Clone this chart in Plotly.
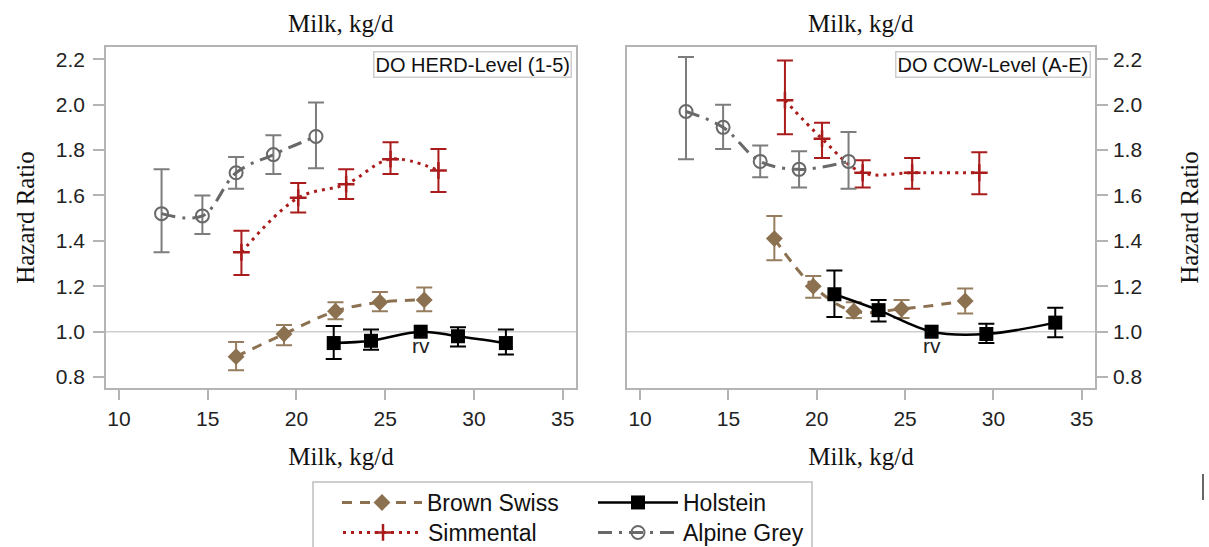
import numpy as np
import plotly.graph_objects as go

# ---- Hazard ratios by milk yield class: herd-level DO (left panel) ----
bs_herd_milk = [16.6, 19.3, 22.2, 24.7, 27.2]
bs_herd_hr = [0.89, 0.99, 1.09, 1.13, 1.14]
bs_herd_lo = [0.83, 0.94, 1.055, 1.09, 1.09]
bs_herd_hi = [0.955, 1.03, 1.13, 1.175, 1.195]

hol_herd_milk = [22.1, 24.2, 27.0, 29.1, 31.8]
hol_herd_hr = [0.95, 0.96, 1.00, 0.98, 0.95]
hol_herd_lo = [0.88, 0.92, None, 0.935, 0.90]
hol_herd_hi = [1.025, 1.01, None, 1.02, 1.01]

sim_herd_milk = [16.9, 20.1, 22.8, 25.3, 28.0]
sim_herd_hr = [1.35, 1.59, 1.65, 1.76, 1.71]
sim_herd_lo = [1.25, 1.525, 1.585, 1.695, 1.615]
sim_herd_hi = [1.445, 1.655, 1.715, 1.835, 1.805]

ag_herd_milk = [12.4, 14.7, 16.6, 18.7, 21.1]
ag_herd_hr = [1.52, 1.51, 1.70, 1.78, 1.86]
ag_herd_lo = [1.35, 1.43, 1.63, 1.695, 1.72]
ag_herd_hi = [1.715, 1.60, 1.77, 1.865, 2.01]

# ---- Hazard ratios by milk yield class: cow-level DO (right panel) ----
bs_cow_milk = [17.6, 19.8, 22.1, 24.8, 28.4]
bs_cow_hr = [1.41, 1.20, 1.09, 1.10, 1.135]
bs_cow_lo = [1.315, 1.15, 1.06, 1.06, 1.08]
bs_cow_hi = [1.51, 1.245, 1.13, 1.14, 1.19]

hol_cow_milk = [21.0, 23.5, 26.5, 29.6, 33.5]
hol_cow_hr = [1.165, 1.095, 1.00, 0.99, 1.04]
hol_cow_lo = [1.065, 1.045, None, 0.95, 0.975]
hol_cow_hi = [1.27, 1.14, None, 1.035, 1.105]

sim_cow_milk = [18.2, 20.3, 22.6, 25.4, 29.2]
sim_cow_hr = [2.02, 1.85, 1.70, 1.70, 1.70]
sim_cow_lo = [1.87, 1.765, 1.635, 1.63, 1.605]
sim_cow_hi = [2.195, 1.92, 1.755, 1.765, 1.79]

ag_cow_milk = [12.6, 14.7, 16.8, 19.0, 21.8]
ag_cow_hr = [1.97, 1.90, 1.75, 1.715, 1.75]
ag_cow_lo = [1.76, 1.805, 1.68, 1.635, 1.63]
ag_cow_hi = [2.21, 2.0, 1.82, 1.795, 1.88]

x_ticks = [10, 15, 20, 25, 30, 35]
y_ticks = [0.8, 1.0, 1.2, 1.4, 1.6, 1.8, 2.0, 2.2]
panel_labels = ["DO HERD-Level (1-5)", "DO COW-Level (A-E)"]
ref_milk = [hol_herd_milk[2], hol_cow_milk[2]]

SANS = "Liberation Sans, Arial, sans-serif"
SERIF = "Liberation Serif, Times New Roman, serif"
W, H = 1209, 547

styles = {
    "Brown Swiss": dict(color="rgb(140,113,80)", err="rgb(150,125,95)",
                        dash="10px,8px", width=3,
                        marker=dict(symbol="diamond", size=13)),
    "Holstein": dict(color="black", err="black", dash="solid", width=2.5,
                     marker=dict(symbol="square", size=14)),
    "Simmental": dict(color="rgb(170,28,28)", err="rgb(170,28,28)",
                      dash="3px,5px", width=3,
                      marker=dict(symbol="cross-thin", size=12,
                                  line=dict(width=2.5, color="rgb(170,28,28)"))),
    "Alpine Grey": dict(color="rgb(105,105,105)", err="rgb(125,125,125)",
                        dash="14px,7px,3px,7px", width=3,
                        marker=dict(symbol="circle-open", size=13,
                                    line=dict(width=2, color="rgb(105,105,105)"))),
}

panels = [
    {
        "Brown Swiss": (bs_herd_milk, bs_herd_hr, bs_herd_lo, bs_herd_hi),
        "Holstein": (hol_herd_milk, hol_herd_hr, hol_herd_lo, hol_herd_hi),
        "Simmental": (sim_herd_milk, sim_herd_hr, sim_herd_lo, sim_herd_hi),
        "Alpine Grey": (ag_herd_milk, ag_herd_hr, ag_herd_lo, ag_herd_hi),
    },
    {
        "Brown Swiss": (bs_cow_milk, bs_cow_hr, bs_cow_lo, bs_cow_hi),
        "Holstein": (hol_cow_milk, hol_cow_hr, hol_cow_lo, hol_cow_hi),
        "Simmental": (sim_cow_milk, sim_cow_hr, sim_cow_lo, sim_cow_hi),
        "Alpine Grey": (ag_cow_milk, ag_cow_hr, ag_cow_lo, ag_cow_hi),
    },
]

legend_ids = {"Brown Swiss": "legend", "Holstein": "legend2",
              "Simmental": "legend3", "Alpine Grey": "legend4"}
draw_order = ["Brown Swiss", "Simmental", "Alpine Grey", "Holstein"]

fig = go.Figure()


def to_float(vals):
    return np.array([np.nan if v is None else v for v in vals], dtype=float)


for p, series in enumerate(panels):
    xa, ya = ("x", "y") if p == 0 else ("x2", "y2")
    for name in draw_order:
        milk, hr, lo, hi = series[name]
        hr_a = np.array(hr, dtype=float)
        up = to_float(hi) - hr_a
        dn = hr_a - to_float(lo)
        st = styles[name]
        fig.add_trace(go.Scatter(
            x=milk, y=hr, name=name, mode="lines+markers",
            xaxis=xa, yaxis=ya,
            line=dict(color=st["color"], width=st["width"], dash=st["dash"],
                      shape="spline", smoothing=1.0),
            marker=dict(color=st["color"], **st["marker"]),
            error_y=dict(type="data", symmetric=False, array=up, arrayminus=dn,
                         color=st["err"], thickness=2, width=8),
            showlegend=(p == 0), legend=legend_ids[name],
        ))

# Panel geometry
x_dom = [[106 / W, 576 / W], [627 / W, 1095 / W]]
y_dom = [1 - 388 / H, 1 - 47 / H]
frame = "rgb(180,180,180)"
title_font = dict(family=SERIF, size=25, color="#111")

axis_common = dict(showgrid=False, zeroline=False, showline=True,
                   linecolor=frame, linewidth=1.5, mirror=True,
                   ticks="outside", tickcolor=frame, tickwidth=1.5,
                   tickfont=dict(family=SANS, size=21, color="#222"))

fig.update_layout(
    xaxis=dict(domain=x_dom[0], anchor="y", range=[9.27, 35.75],
               tickvals=x_ticks, ticklen=10, ticklabelstandoff=1,
               title=dict(text="Milk, kg/d", standoff=19, font=title_font),
               **axis_common),
    yaxis=dict(domain=y_dom, anchor="x", range=[0.752, 2.254],
               tickvals=y_ticks, tickformat=".1f", ticklen=11,
               ticklabelstandoff=4,
               title=dict(text="Hazard Ratio", standoff=14, font=title_font),
               **axis_common),
    xaxis2=dict(domain=x_dom[1], anchor="y2", range=[9.26, 35.75],
                tickvals=x_ticks, ticklen=10, ticklabelstandoff=1,
                title=dict(text="Milk, kg/d", standoff=19, font=title_font),
                **axis_common),
    yaxis2=dict(domain=y_dom, anchor="x2", side="right", range=[0.752, 2.254],
                tickvals=y_ticks, tickformat=".1f", ticklen=11,
                ticklabelstandoff=1,
                title=dict(text="Hazard Ratio", standoff=39, font=title_font),
                **axis_common),
)

# Reference line at HR = 1 in each panel
for xr, yr in (("x domain", "y"), ("x2 domain", "y2")):
    fig.add_shape(type="line", xref=xr, yref=yr, x0=0, x1=1, y0=1.0, y1=1.0,
                  line=dict(color="rgb(205,205,205)", width=1.5), layer="below")

annotations = []
for i, label in enumerate(panel_labels):
    sfx = "" if i == 0 else "2"
    # Panel label in the upper-right corner
    annotations.append(dict(
        text=label, xref=f"x{sfx} domain", yref=f"y{sfx} domain",
        x=0.991, y=0.989, xanchor="right", yanchor="top", showarrow=False,
        font=dict(family=SANS, size=20, color="#111"),
        bgcolor="white", bordercolor="rgb(205,205,205)", borderwidth=1.5,
        borderpad=1))
    # Reference-class marker under the Holstein reference point
    annotations.append(dict(
        text="rv", xref=f"x{sfx}", yref=f"y{sfx}", x=ref_milk[i], y=1.0,
        yshift=-14, showarrow=False, xanchor="center", yanchor="middle",
        font=dict(family=SANS, size=21, color="#222")))
    # Axis title repeated along the top of each panel
    annotations.append(dict(
        text="Milk, kg/d", xref="paper", yref="paper",
        x=(x_dom[i][0] + x_dom[i][1]) / 2, y=1 - 23 / H,
        xanchor="center", yanchor="middle", showarrow=False,
        font=title_font))

ITEM_W = 80
legend_common = dict(orientation="h", bgcolor="rgba(0,0,0,0)", borderwidth=0,
                     font=dict(family=SANS, size=23, color="#111"),
                     itemwidth=ITEM_W,
                     xanchor="left", yanchor="top", itemclick=False)
row1 = 1 - 481 / H
row2 = 1 - 511 / H
text_gap = ITEM_W + 10
fig.update_layout(
    legend=dict(x=(427 - text_gap) / W, y=row1, **legend_common),
    legend2=dict(x=(683 - text_gap) / W, y=row1, **legend_common),
    legend3=dict(x=(428 - text_gap) / W, y=row2, **legend_common),
    legend4=dict(x=(683 - text_gap) / W, y=row2, **legend_common),
)

# Legend frame
fig.add_shape(type="rect", xref="paper", yref="paper",
              x0=313 / W, x1=812 / W, y0=-0.1, y1=1 - 482 / H,
              line=dict(color="rgb(190,190,190)", width=1.5))
# Thin vertical rule at the lower right
fig.add_shape(type="line", xref="paper", yref="paper",
              x0=1203 / W, x1=1203 / W, y0=1 - 474 / H, y1=1 - 500 / H,
              line=dict(color="black", width=1.2))

fig.update_layout(
    width=W, height=H,
    margin=dict(l=0, r=0, t=0, b=0, autoexpand=False),
    paper_bgcolor="white", plot_bgcolor="white",
    annotations=annotations,
)

fig.write_html("out.html")
